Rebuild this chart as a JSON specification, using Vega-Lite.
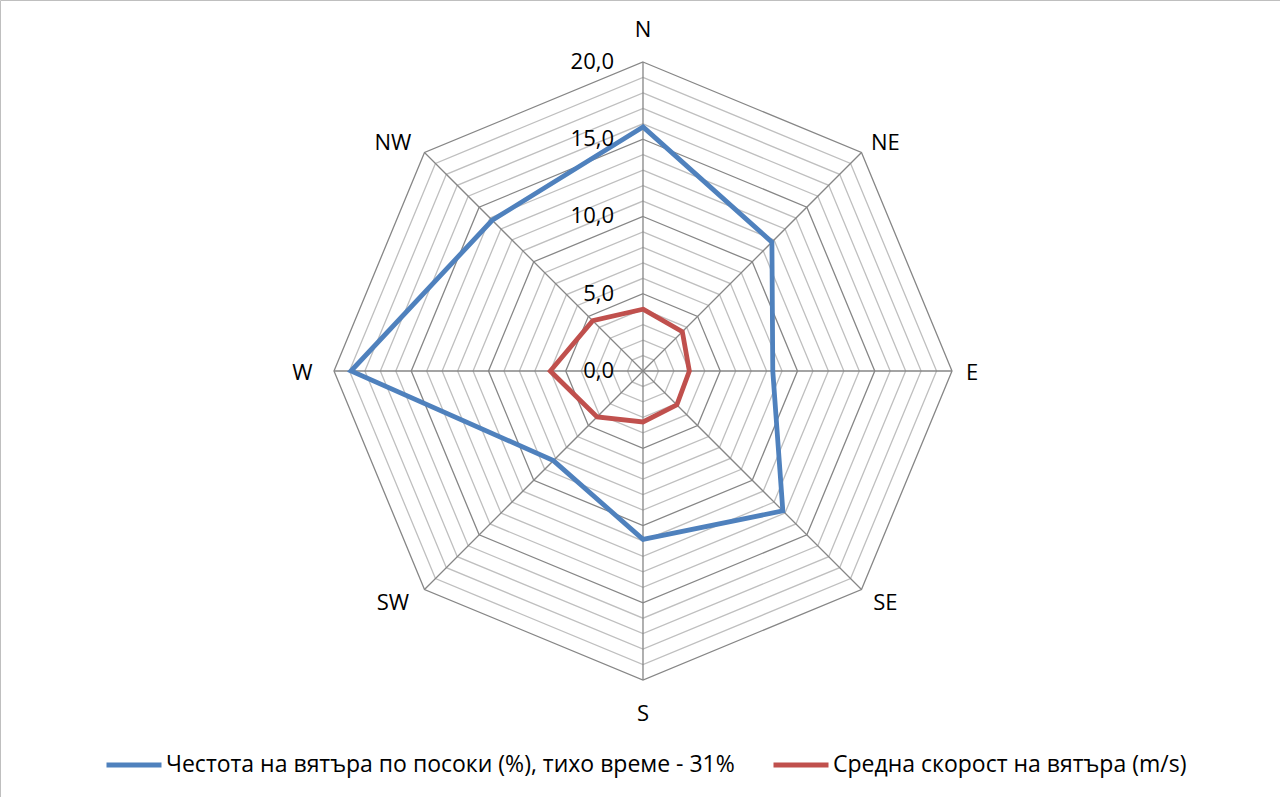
{
  "$schema": "https://vega.github.io/schema/vega-lite/v6.json",
  "width": 1280,
  "height": 797,
  "autosize": {"type": "none"},
  "padding": 0,
  "background": "white",
  "config": {"view": {"stroke": "#BFBFBF", "strokeWidth": 1}, "font": "Open Sans"},
  "datasets": {
    "dirs": [
      {"dir": "N", "i": 0}, {"dir": "NE", "i": 1}, {"dir": "E", "i": 2}, {"dir": "SE", "i": 3},
      {"dir": "S", "i": 4}, {"dir": "SW", "i": 5}, {"dir": "W", "i": 6}, {"dir": "NW", "i": 7}
    ],
    "levels": [
      {"r": 1}, {"r": 2}, {"r": 3}, {"r": 4}, {"r": 5}, {"r": 6}, {"r": 7}, {"r": 8}, {"r": 9}, {"r": 10},
      {"r": 11}, {"r": 12}, {"r": 13}, {"r": 14}, {"r": 15}, {"r": 16}, {"r": 17}, {"r": 18}, {"r": 19}, {"r": 20}
    ],
    "ticks": [
      {"v": 0, "label": "0,0"}, {"v": 5, "label": "5,0"}, {"v": 10, "label": "10,0"},
      {"v": 15, "label": "15,0"}, {"v": 20, "label": "20,0"}
    ],
    "series": [
      {"series": "Честота на вятъра по посоки (%), тихо време - 31%", "dir": "N", "i": 0, "value": 15.8},
      {"series": "Честота на вятъра по посоки (%), тихо време - 31%", "dir": "NE", "i": 1, "value": 11.8},
      {"series": "Честота на вятъра по посоки (%), тихо време - 31%", "dir": "E", "i": 2, "value": 8.4},
      {"series": "Честота на вятъра по посоки (%), тихо време - 31%", "dir": "SE", "i": 3, "value": 12.8},
      {"series": "Честота на вятъра по посоки (%), тихо време - 31%", "dir": "S", "i": 4, "value": 10.9},
      {"series": "Честота на вятъра по посоки (%), тихо време - 31%", "dir": "SW", "i": 5, "value": 8.2},
      {"series": "Честота на вятъра по посоки (%), тихо време - 31%", "dir": "W", "i": 6, "value": 18.9},
      {"series": "Честота на вятъра по посоки (%), тихо време - 31%", "dir": "NW", "i": 7, "value": 13.8},
      {"series": "Средна скорост на вятъра (m/s)", "dir": "N", "i": 0, "value": 4.0},
      {"series": "Средна скорост на вятъра (m/s)", "dir": "NE", "i": 1, "value": 3.6},
      {"series": "Средна скорост на вятъра (m/s)", "dir": "E", "i": 2, "value": 3.0},
      {"series": "Средна скорост на вятъра (m/s)", "dir": "SE", "i": 3, "value": 3.1},
      {"series": "Средна скорост на вятъра (m/s)", "dir": "S", "i": 4, "value": 3.3},
      {"series": "Средна скорост на вятъра (m/s)", "dir": "SW", "i": 5, "value": 4.2},
      {"series": "Средна скорост на вятъра (m/s)", "dir": "W", "i": 6, "value": 6.0},
      {"series": "Средна скорост на вятъра (m/s)", "dir": "NW", "i": 7, "value": 4.6}
    ]
  },
  "layer": [
    {
      "data": {"name": "levels"},
      "transform": [
        {"filter": "datum.r % 5 !== 0"},
        {"calculate": "[0,1,2,3,4,5,6,7]", "as": "k"},
        {"flatten": ["k"]},
        {"calculate": "datum.r*sin(datum.k*PI/4)", "as": "gx"},
        {"calculate": "datum.r*cos(datum.k*PI/4)", "as": "gy"}
      ],
      "mark": {"type": "line", "interpolate": "linear-closed", "strokeWidth": 1.3, "color": "#BFBFBF"},
      "encoding": {
        "x": {"field": "gx", "type": "quantitative", "axis": null, "scale": {"domain": [-41.618, 41.230], "nice": false, "zero": false}},
        "y": {"field": "gy", "type": "quantitative", "axis": null, "scale": {"domain": [-27.573, 24.013], "nice": false, "zero": false}},
        "detail": {"field": "r", "type": "nominal"},
        "order": {"field": "k", "type": "quantitative"}
      }
    },
    {
      "data": {"name": "levels"},
      "transform": [
        {"filter": "datum.r % 5 === 0"},
        {"calculate": "[0,1,2,3,4,5,6,7]", "as": "k"},
        {"flatten": ["k"]},
        {"calculate": "datum.r*sin(datum.k*PI/4)", "as": "gx"},
        {"calculate": "datum.r*cos(datum.k*PI/4)", "as": "gy"}
      ],
      "mark": {"type": "line", "interpolate": "linear-closed", "strokeWidth": 1.3, "color": "#868686"},
      "encoding": {
        "x": {"field": "gx", "type": "quantitative", "axis": null, "scale": {"domain": [-41.618, 41.230], "nice": false, "zero": false}},
        "y": {"field": "gy", "type": "quantitative", "axis": null, "scale": {"domain": [-27.573, 24.013], "nice": false, "zero": false}},
        "detail": {"field": "r", "type": "nominal"},
        "order": {"field": "k", "type": "quantitative"}
      }
    },
    {
      "data": {"name": "dirs"},
      "transform": [
        {"calculate": "0", "as": "zx"},
        {"calculate": "20*sin(datum.i*PI/4)", "as": "ex"},
        {"calculate": "20*cos(datum.i*PI/4)", "as": "ey"}
      ],
      "mark": {"type": "rule", "color": "#868686", "strokeWidth": 1.3},
      "encoding": {
        "x": {"field": "zx", "type": "quantitative", "axis": null, "scale": {"domain": [-41.618, 41.230], "nice": false, "zero": false}},
        "y": {"field": "zx", "type": "quantitative", "axis": null, "scale": {"domain": [-27.573, 24.013], "nice": false, "zero": false}},
        "x2": {"field": "ex"},
        "y2": {"field": "ey"}
      }
    },
    {
      "data": {"name": "series"},
      "transform": [
        {"calculate": "datum.value*sin(datum.i*PI/4)", "as": "sx"},
        {"calculate": "datum.value*cos(datum.i*PI/4)", "as": "sy"}
      ],
      "mark": {"type": "line", "interpolate": "linear-closed", "strokeWidth": 4.8, "strokeJoin": "miter"},
      "encoding": {
        "x": {"field": "sx", "type": "quantitative", "axis": null, "scale": {"domain": [-41.618, 41.230], "nice": false, "zero": false}},
        "y": {"field": "sy", "type": "quantitative", "axis": null, "scale": {"domain": [-27.573, 24.013], "nice": false, "zero": false}},
        "order": {"field": "i", "type": "quantitative"},
        "color": {
          "field": "series",
          "type": "nominal",
          "scale": {
            "domain": ["Честота на вятъра по посоки (%), тихо време - 31%", "Средна скорост на вятъра (m/s)"],
            "range": ["#4F81BD", "#C0504D"]
          },
          "legend": {
            "title": null,
            "orient": "none",
            "direction": "horizontal",
            "legendX": 104,
            "legendY": 735,
            "symbolType": "stroke",
            "symbolSize": 3025,
            "symbolStrokeWidth": 5,
            "symbolOffset": 0,
            "labelOffset": 2,
            "labelFont": "Open Sans",
            "labelFontSize": 23,
            "labelColor": "#000000",
            "labelLimit": 1000,
            "columnPadding": 28,
            "padding": 0
          }
        }
      }
    },
    {
      "data": {"name": "ticks"},
      "transform": [{"calculate": "0", "as": "zx"}],
      "mark": {"type": "text", "align": "right", "baseline": "middle", "dx": -29, "fontSize": 22, "font": "Open Sans", "color": "#000000"},
      "encoding": {
        "x": {"field": "zx", "type": "quantitative", "axis": null, "scale": {"domain": [-41.618, 41.230], "nice": false, "zero": false}},
        "y": {"field": "v", "type": "quantitative", "axis": null, "scale": {"domain": [-27.573, 24.013], "nice": false, "zero": false}},
        "text": {"field": "label", "type": "nominal"}
      }
    },
    {
      "data": {"name": "dirs"},
      "transform": [
        {"calculate": "sin(datum.i*PI/4)", "as": "s"},
        {"calculate": "cos(datum.i*PI/4)", "as": "c"},
        {"calculate": "20*datum.s + (datum.s > 0.1 ? (datum.c > 0.1 || datum.c < -0.1 ? 1.55 : 1.3) : (datum.s < -0.1 ? -2.05 : 0))", "as": "lx"},
        {"calculate": "20*datum.c + (datum.c > 0.1 ? (datum.s > 0.1 || datum.s < -0.1 ? 0.6 : 2.07) : (datum.c < -0.1 ? (datum.s > 0.1 || datum.s < -0.1 ? -0.88 : -2.2) : -0.15))", "as": "ly"}
      ],
      "mark": {"type": "text", "align": "center", "baseline": "middle", "fontSize": 22, "font": "Open Sans", "color": "#000000"},
      "encoding": {
        "x": {"field": "lx", "type": "quantitative", "axis": null, "scale": {"domain": [-41.618, 41.230], "nice": false, "zero": false}},
        "y": {"field": "ly", "type": "quantitative", "axis": null, "scale": {"domain": [-27.573, 24.013], "nice": false, "zero": false}},
        "text": {"field": "dir", "type": "nominal"}
      }
    }
  ]
}
